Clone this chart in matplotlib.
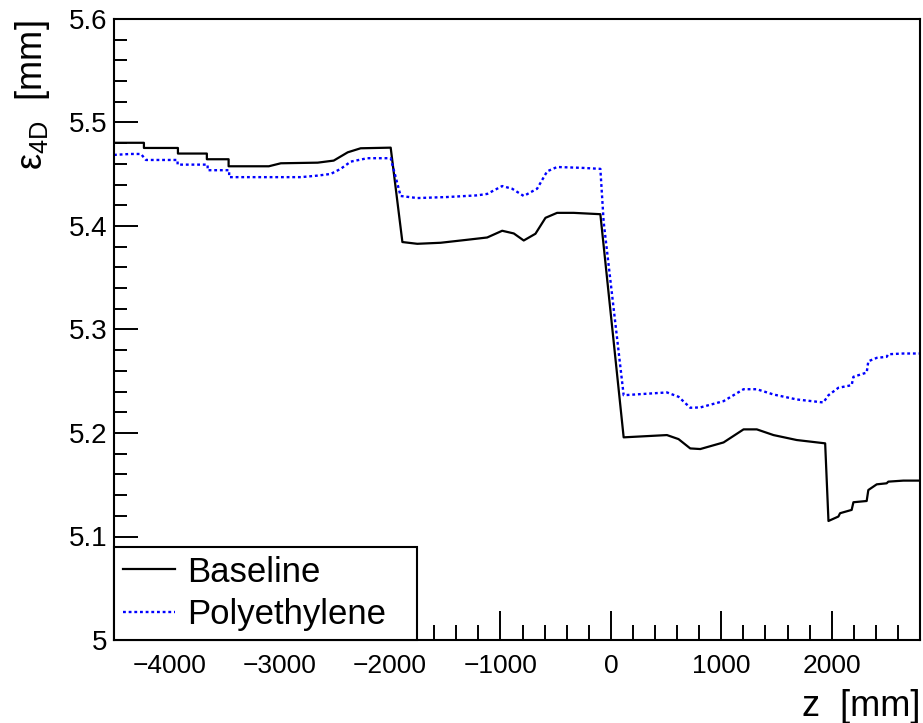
import matplotlib
matplotlib.use("Agg")
import matplotlib.pyplot as plt
from matplotlib.ticker import MultipleLocator

plt.rcParams["font.family"] = ["Liberation Sans", "DejaVu Sans"]
plt.rcParams["mathtext.fontset"] = "custom"
plt.rcParams["mathtext.rm"] = "Liberation Sans"
plt.rcParams["mathtext.it"] = "Liberation Sans:italic"

# -------------------------------
# Data
# -------------------------------

z_base = [-4500, -4229, -4229, -3921, -3921, -3659, -3659, -3462, -3462, -3098,
          -2989, -2655, -2510, -2383, -2266, -1994, -1888, -1753, -1542, -1300,
          -1120, -984, -879, -789, -683, -592, -487, -337, -95, 116,
          508, 613, 719, 810, 1021, 1202, 1322, 1473, 1684, 1941,
          1971, 2061, 2076, 2181, 2197, 2317, 2332, 2408, 2498, 2513,
          2649, 2800]
eps_base = [5.4804, 5.4804, 5.4754, 5.4754, 5.4700, 5.4700, 5.4645, 5.4645, 5.4577, 5.4577,
            5.4606, 5.4612, 5.4632, 5.4712, 5.4751, 5.4757, 5.3845, 5.3828, 5.3838, 5.3867,
            5.3889, 5.3954, 5.3928, 5.3860, 5.3925, 5.4079, 5.4127, 5.4127, 5.4114, 5.1958,
            5.1980, 5.1941, 5.1851, 5.1845, 5.1909, 5.2035, 5.2035, 5.1980, 5.1932, 5.1900,
            5.1150, 5.1193, 5.1225, 5.1257, 5.1331, 5.1343, 5.1449, 5.1504, 5.1514, 5.1530,
            5.1540, 5.1540]

z_poly = [-4500, -4350, -4256, -4211, -3924, -3924, -3652, -3652, -3457, -3457,
          -2808, -2655, -2537, -2447, -2356, -2205, -1994, -1904, -1753, -1482,
          -1210, -1120, -984, -894, -789, -668, -577, -487, -267, -95,
          -65, 116, 508, 613, 719, 810, 1021, 1202, 1322, 1473,
          1684, 1925, 1971, 2061, 2181, 2197, 2317, 2332, 2408, 2498,
          2513, 2649, 2800]
eps_poly = [5.4687, 5.4696, 5.4696, 5.4638, 5.4638, 5.4593, 5.4593, 5.4539, 5.4539, 5.4472,
            5.4472, 5.4487, 5.4503, 5.4552, 5.4622, 5.4655, 5.4655, 5.4290, 5.4270, 5.4280,
            5.4296, 5.4310, 5.4386, 5.4360, 5.4290, 5.4360, 5.4528, 5.4570, 5.4562, 5.4552,
            5.4038, 5.2365, 5.2392, 5.2350, 5.2244, 5.2247, 5.2308, 5.2423, 5.2423, 5.2372,
            5.2324, 5.2295, 5.2365, 5.2437, 5.2462, 5.2543, 5.2584, 5.2693, 5.2726, 5.2736,
            5.2761, 5.2768, 5.2768]

labels = ["Baseline", "Polyethylene"]

# -------------------------------
# Plot
# -------------------------------

fig = plt.figure(figsize=(9.23, 7.23), dpi=100)
ax = fig.add_axes([114 / 923, 83 / 723, 806 / 923, 621 / 723])

ax.plot(z_base, eps_base, color="black", lw=1.6, label=labels[0])
ax.plot(z_poly, eps_poly, color="#0000ff", lw=1.7, linestyle=(0, (1.2, 1.2)), label=labels[1])

ax.set_xlim(-4500, 2800)
ax.set_ylim(5.0, 5.6)

ax.xaxis.set_major_locator(MultipleLocator(1000))
ax.xaxis.set_minor_locator(MultipleLocator(200))
ax.yaxis.set_minor_locator(MultipleLocator(0.02))
ax.set_yticks([5.0, 5.1, 5.2, 5.3, 5.4, 5.5, 5.6])
ax.set_yticklabels(["5", "5.1", "5.2", "5.3", "5.4", "5.5", "5.6"])

for s in ax.spines.values():
    s.set_linewidth(1.5)

ax.tick_params(axis="both", which="both", direction="in", width=1.4)
ax.tick_params(axis="x", which="major", length=21, pad=10, labelsize=19)
ax.tick_params(axis="x", which="minor", length=11)
ax.tick_params(axis="y", which="major", length=17, pad=5, labelsize=20)
ax.tick_params(axis="y", which="minor", length=9)

fig.text(920 / 923, 1 - 706 / 723, "z  [mm]", ha="right", va="center", fontsize=26)
fig.text(33 / 923, 1 - 20 / 723, "$\\mathregular{ε_{4D}}$  [mm]", rotation=90,
         ha="center", va="top", fontsize=26)

leg = ax.legend(loc="lower left", bbox_to_anchor=(0, 0, 303 / 806, 0.15),
                mode="expand", borderaxespad=0,
                fontsize=25, frameon=True, fancybox=False, edgecolor="black",
                framealpha=1, handlelength=1.5, handletextpad=0.35,
                labelspacing=0.28, borderpad=0.25)
leg.get_frame().set_linewidth(1.5)
leg.set_zorder(10)

plt.savefig("out.png", dpi=100)
